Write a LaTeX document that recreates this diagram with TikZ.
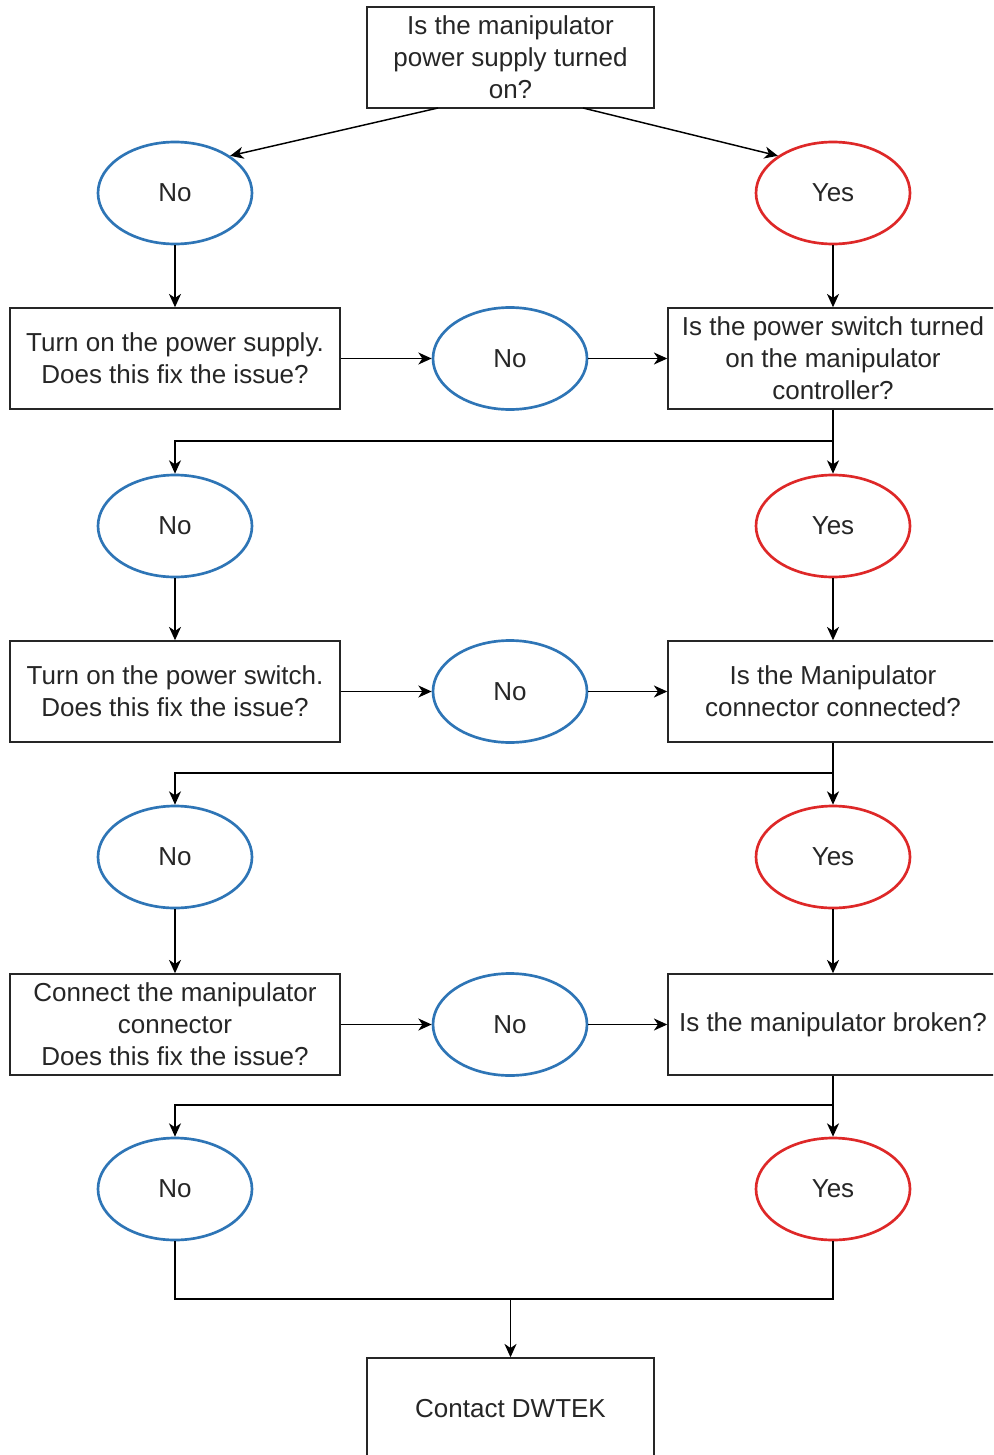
\documentclass[tikz,border=0pt]{standalone}
\usepackage{fontspec}
\setmainfont{Liberation Sans}
\usetikzlibrary{arrows.meta,calc,shapes.geometric}
\definecolor{noblue}{RGB}{46,117,182}
\definecolor{yesred}{RGB}{222,40,40}
\begin{document}
\begin{tikzpicture}[x=0.75pt,y=-0.75pt,
  every node/.style={font=\fontsize{19.5pt}{24pt}\selectfont, text=black!85, align=center, inner sep=0pt},
  box/.style={draw=black!85, line width=1.1pt, fill=white, minimum width=247.5pt, minimum height=75.75pt},
  topbox/.style={box, minimum width=215.25pt},
  oval/.style={ellipse, line width=2pt, fill=white, minimum width=115.5pt, minimum height=76.5pt},
  nooval/.style={oval, draw=noblue},
  yesoval/.style={oval, draw=yesred},
  arr/.style={draw=black, line width=1.1pt, -{Stealth[length=10pt,width=9pt,inset=3pt]}},
  link/.style={draw=black, line width=1.1pt}]
\useasboundingbox (0,0) rectangle (993,1455);
\clip (0,0) rectangle (993,1455);
\fill[white] (0,0) rectangle (993,1455);

% first question and its answers
\node[topbox] (q1) at (510.5,57.5) {Is the manipulator\\power supply turned\\on?};
\node[nooval] (no1) at (175,193) {No};
\node[yesoval] (yes1) at (833,193) {Yes};

% power supply row
\node[box] (fix1) at (175,358.5) {Turn on the power supply.\\Does this fix the issue?};
\node[nooval] (mid1) at (510,358.5) {No};
\node[box] (q2) at (833,358.5) {Is the power switch turned\\on the manipulator\\controller?};

\node[nooval] (no2) at (175,526) {No};
\node[yesoval] (yes2) at (833,526) {Yes};

% power switch row
\node[box] (fix2) at (175,691.5) {Turn on the power switch.\\Does this fix the issue?};
\node[nooval] (mid2) at (510,691.5) {No};
\node[box] (q3) at (833,691.5) {Is the Manipulator\\connector connected?};

\node[nooval] (no3) at (175,857) {No};
\node[yesoval] (yes3) at (833,857) {Yes};

% connector row
\node[box] (fix3) at (175,1024.5) {Connect the manipulator\\connector\\Does this fix the issue?};
\node[nooval] (mid3) at (510,1024.5) {No};
\node[box] (q4) at (833,1024.5) {Is the manipulator broken?};

\node[nooval] (no4) at (175,1189) {No};
\node[yesoval] (yes4) at (833,1189) {Yes};

% final step
\node[topbox] (end) at (510.5,1408.5) {Contact DWTEK};

% junction points
\coordinate (s1l) at (438,108);
\coordinate (s1r) at (583,108);
\coordinate (j2) at (833,441);
\coordinate (j3) at (833,773);
\coordinate (j4) at (833,1105);
\coordinate (m) at (510.5,1299);

% connectors
\draw[arr] (s1l) -- (no1.34);
\draw[arr] (s1r) -- (yes1.146);
\draw[arr] (no1.south) -- (fix1.north);
\draw[arr] (yes1.south) -- (q2.north);
\draw[arr] (fix1.east) -- (mid1.west);
\draw[arr] (mid1.east) -- (q2.west);

\draw[arr] (q2.south) -- (yes2.north);
\draw[arr] (j2) -| (no2.north);
\draw[arr] (no2.south) -- (fix2.north);
\draw[arr] (yes2.south) -- (q3.north);
\draw[arr] (fix2.east) -- (mid2.west);
\draw[arr] (mid2.east) -- (q3.west);

\draw[arr] (q3.south) -- (yes3.north);
\draw[arr] (j3) -| (no3.north);
\draw[arr] (no3.south) -- (fix3.north);
\draw[arr] (yes3.south) -- (q4.north);
\draw[arr] (fix3.east) -- (mid3.west);
\draw[arr] (mid3.east) -- (q4.west);

\draw[arr] (q4.south) -- (yes4.north);
\draw[arr] (j4) -| (no4.north);

\draw[link] (no4.south) |- (m) -| (yes4.south);
\draw[arr] (m) -- (end.north);
\end{tikzpicture}
\end{document}
